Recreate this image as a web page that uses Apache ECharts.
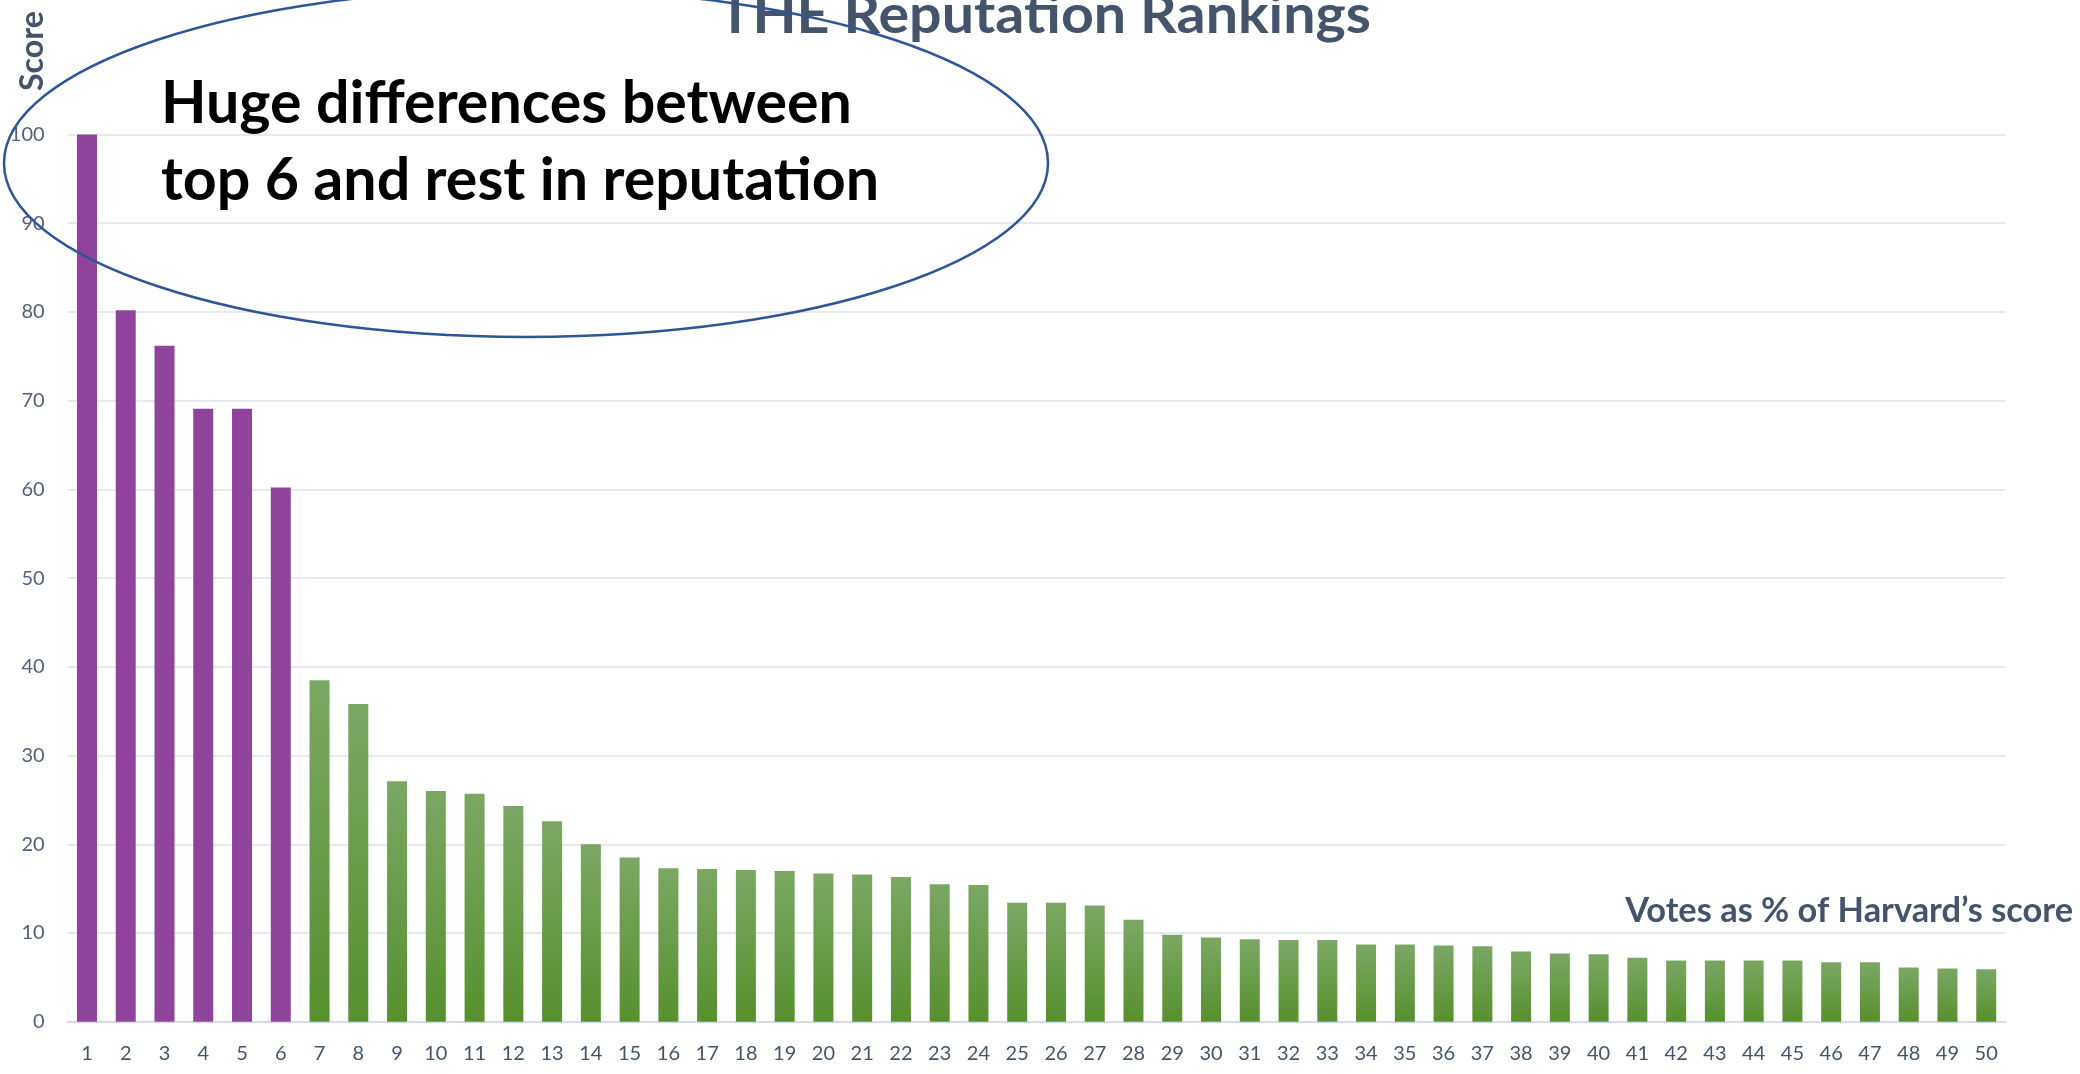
<!DOCTYPE html>
<html>
<head>
<meta charset="utf-8">
<title>THE Reputation Rankings</title>
<script src="https://cdn.jsdelivr.net/npm/echarts@6/dist/echarts.min.js"></script>
<style>
  html, body { margin: 0; padding: 0; background: #ffffff; }
  #chart { width: 2080px; height: 1074px; }
</style>
</head>
<body>
<div id="chart"></div>
<script>
// Rank positions along the x axis
const ranks = ['1', '2', '3', '4', '5', '6', '7', '8', '9', '10',
  '11', '12', '13', '14', '15', '16', '17', '18', '19', '20',
  '21', '22', '23', '24', '25', '26', '27', '28', '29', '30',
  '31', '32', '33', '34', '35', '36', '37', '38', '39', '40',
  '41', '42', '43', '44', '45', '46', '47', '48', '49', '50'];

// Reputation score of each rank (votes as % of the top institution)
const scores = [100, 80.2, 76.2, 69.1, 69.1, 60.2, 38.5, 35.8, 27.1, 26.0,
  25.7, 24.3, 22.6, 20.0, 18.5, 17.3, 17.2, 17.1, 17.0, 16.7,
  16.6, 16.3, 15.5, 15.4, 13.4, 13.4, 13.1, 11.5, 9.8, 9.5,
  9.3, 9.2, 9.2, 8.7, 8.7, 8.6, 8.5, 7.9, 7.7, 7.6,
  7.2, 6.9, 6.9, 6.9, 6.9, 6.7, 6.7, 6.1, 6.0, 5.9];

// How many leading ranks are highlighted
const topGroupSize = 6;

// Value axis ticks
const scoreAxisMin = 0;
const scoreAxisMax = 100;
const scoreAxisStep = 10;

const titleText = 'THE Reputation Rankings';
const calloutLines = ['Huge differences between', 'top 6 and rest in reputation'];
const yAxisTitle = 'Score';
const xAxisTitle = 'Votes as % of Harvard\u2019s score';

const FONT = 'Lato, "Open Sans", sans-serif';
const SLATE = '#44546A';
const PURPLE = '#8E449A';

// text measuring, used to size labels to a given width
const measureCtx = document.createElement('canvas').getContext('2d');
function textWidth(text, size, weight) {
  measureCtx.font = weight + ' ' + size + 'px ' + FONT;
  return measureCtx.measureText(text).width;
}
function sizeForWidth(text, width, weight) {
  return 100 * width / textWidth(text, 100, weight);
}
// y of the middle of the em box for a wanted alphabetic baseline
function middleFromBaseline(baseline, size) {
  return baseline - 0.32 * size;
}

const greenFill = new echarts.graphic.LinearGradient(0, 0, 0, 1, [
  { offset: 0, color: '#7BA764' },
  { offset: 1, color: '#57902E' }
]);

const barData = scores.map((v, i) => ({
  value: v,
  itemStyle: { color: i < topGroupSize ? PURPLE : greenFill }
}));

const titleSize = 54;
const titleScaleX = 653 / textWidth(titleText, titleSize, 'bold');
const calloutSize = sizeForWidth(calloutLines[0], 691, 'bold');
const yTitleSize = sizeForWidth(yAxisTitle, 80, 'bold');
const xTitleSize = sizeForWidth(xAxisTitle, 448, 'bold');

const chart = echarts.init(document.getElementById('chart'), null, { renderer: 'canvas' });

chart.setOption({
  animation: false,
  backgroundColor: '#ffffff',
  grid: { left: 67.6, right: 74.4, top: 134.5, bottom: 52.3, containLabel: false },
  xAxis: {
    type: 'category',
    data: ranks,
    axisTick: { show: false },
    axisLine: { show: true, lineStyle: { color: '#D6DCE5', width: 2 } },
    axisLabel: { color: SLATE, fontFamily: FONT, fontSize: 20, margin: 22, interval: 0 }
  },
  yAxis: {
    type: 'value',
    min: scoreAxisMin,
    max: scoreAxisMax,
    interval: scoreAxisStep,
    axisLine: { show: false },
    axisTick: { show: false },
    axisLabel: { color: '#53607A', fontFamily: FONT, fontSize: 20, margin: 23 },
    splitLine: { lineStyle: { color: '#DEE2E9', width: 1.5 } }
  },
  series: [{
    type: 'bar',
    data: barData,
    barWidth: 20,
    z: 2
  }],
  graphic: [
    {
      type: 'text', x: 718, y: middleFromBaseline(33, titleSize), scaleX: titleScaleX, z: 50,
      style: { text: titleText, fill: SLATE, fontFamily: FONT, fontWeight: 'bold',
        fontSize: titleSize, align: 'left', verticalAlign: 'middle' }
    },
    {
      type: 'text', x: 161, y: middleFromBaseline(123, calloutSize), z: 50,
      style: { text: calloutLines[0], fill: '#000000', fontFamily: FONT, fontWeight: 'bold',
        fontSize: calloutSize, align: 'left', verticalAlign: 'middle' }
    },
    {
      type: 'text', x: 161, y: middleFromBaseline(200, calloutSize), z: 50,
      style: { text: calloutLines[1], fill: '#000000', fontFamily: FONT, fontWeight: 'bold',
        fontSize: calloutSize, align: 'left', verticalAlign: 'middle' }
    },
    {
      type: 'text', x: 32.5, y: 51, rotation: Math.PI / 2, z: 50,
      style: { text: yAxisTitle, fill: SLATE, fontFamily: FONT, fontWeight: 'bold',
        fontSize: yTitleSize, align: 'center', verticalAlign: 'middle' }
    },
    {
      type: 'text', x: 2073, y: middleFromBaseline(922, xTitleSize), z: 50,
      style: { text: xAxisTitle, fill: SLATE, fontFamily: FONT, fontWeight: 'bold',
        fontSize: xTitleSize, align: 'right', verticalAlign: 'middle' }
    },
    {
      // callout ring around the note and the leading bars
      type: 'ellipse', z: 60,
      shape: { cx: 526, cy: 163, rx: 522, ry: 174 },
      style: { fill: null, stroke: '#2F5597', lineWidth: 2.5 }
    }
  ]
});
</script>
</body>
</html>
